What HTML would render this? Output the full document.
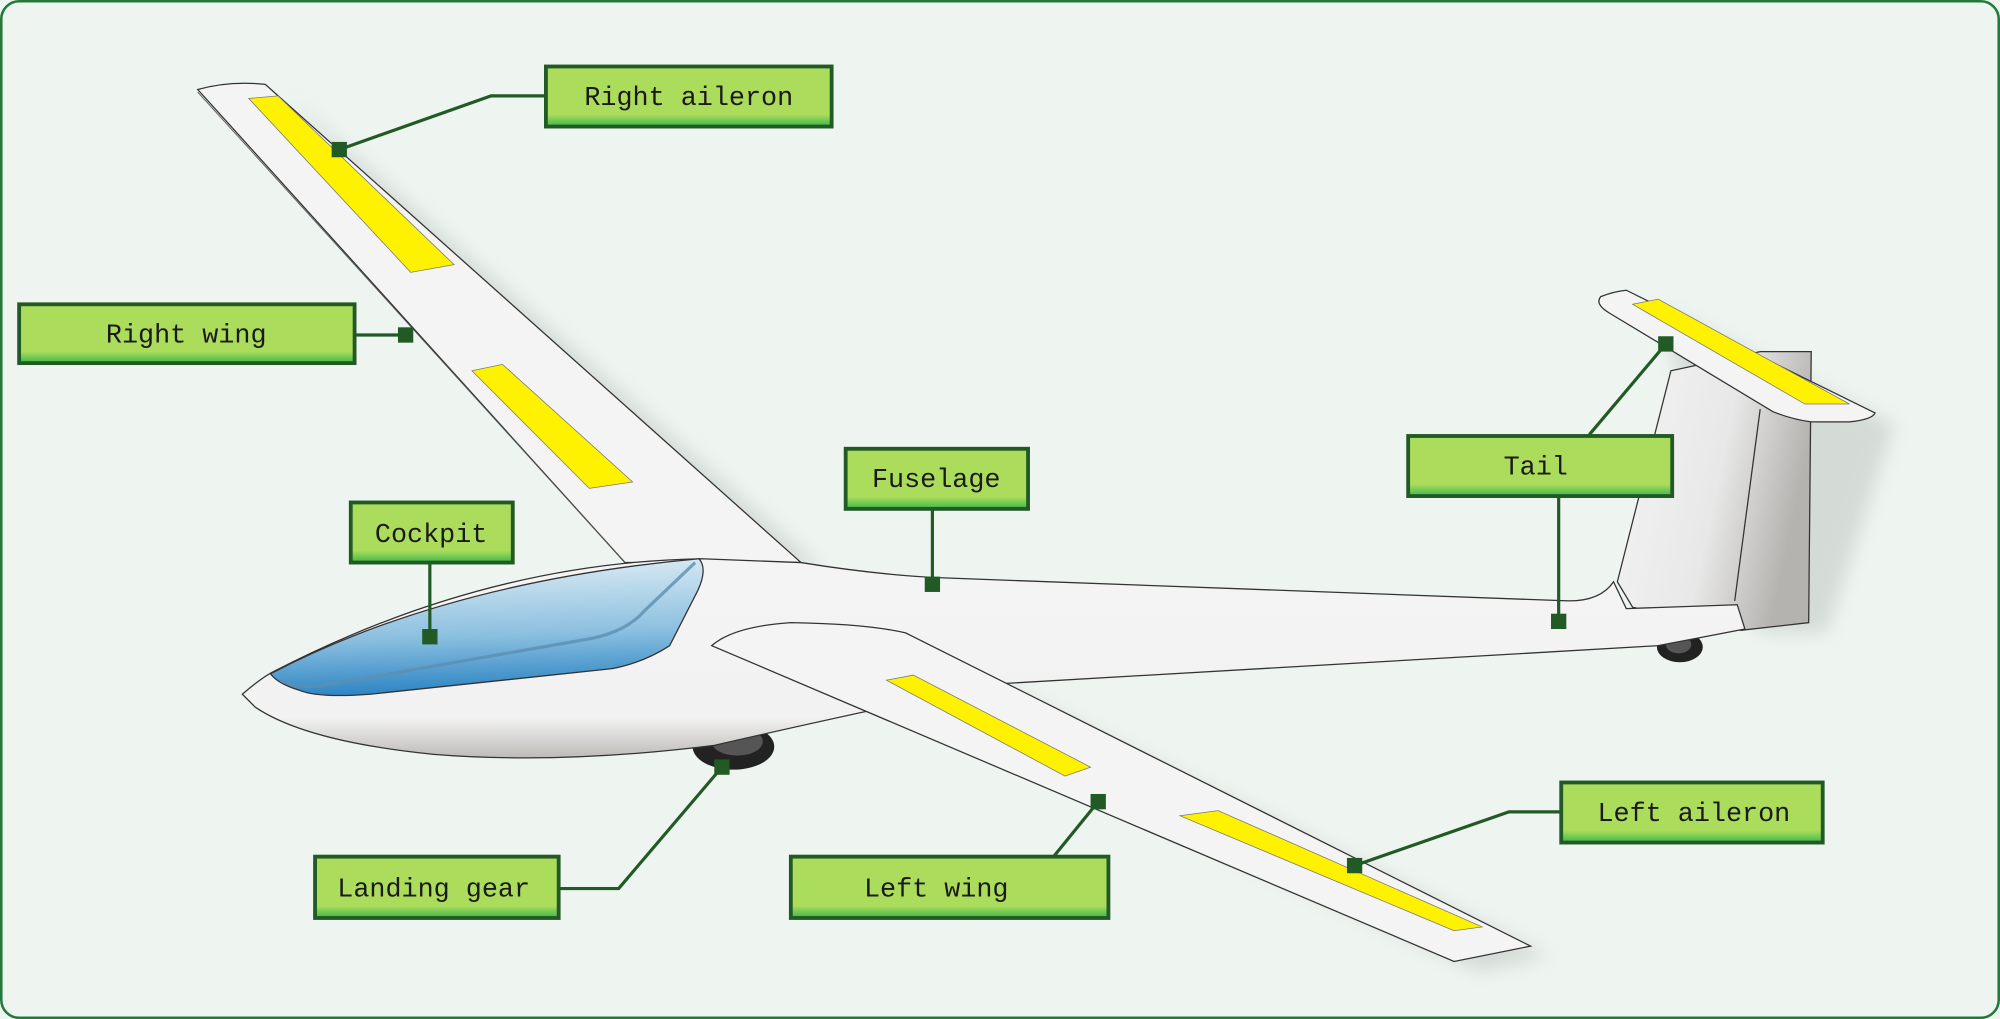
<!DOCTYPE html>
<html><head><meta charset="utf-8"><style>
html,body{margin:0;padding:0;width:2000px;height:1019px;overflow:hidden;background:#eef5f0}
svg{display:block}
text{font-family:"Liberation Mono","DejaVu Sans Mono",monospace;font-size:21px;fill:#1a1a1a}
</style></head><body>
<svg width="2000" height="1019" viewBox="0 0 1568 797" preserveAspectRatio="none">
<defs>
<linearGradient id="can" x1="0" y1="0" x2="0.1" y2="1">
<stop offset="0" stop-color="#e3eff6"/><stop offset="0.6" stop-color="#8cc0e0"/><stop offset="1" stop-color="#2f86c4"/></linearGradient>
<linearGradient id="fin" x1="0" y1="0" x2="1" y2="0.3">
<stop offset="0" stop-color="#f4f4f4"/><stop offset="0.6" stop-color="#e8e8e8"/><stop offset="1" stop-color="#b5b3af"/></linearGradient>
<linearGradient id="fus" x1="0" y1="0" x2="0" y2="1">
<stop offset="0" stop-color="#f4f4f4"/><stop offset="0.8" stop-color="#f2f2f2"/><stop offset="1" stop-color="#bdbbb7"/></linearGradient>
<linearGradient id="box" x1="0" y1="0" x2="0" y2="1">
<stop offset="0" stop-color="#acdc5c"/><stop offset="0.8" stop-color="#acdc5c"/><stop offset="1" stop-color="#3cb84a"/></linearGradient>
<filter id="sh" x="-10%" y="-10%" width="130%" height="130%"><feGaussianBlur stdDeviation="7"/></filter>
</defs>
<rect x="1" y="1" width="1566" height="795" rx="14" fill="#eef5f0" stroke="#217a3a" stroke-width="2"/>
<!-- shadows -->
<g fill="#9a9f9b" opacity="0.3" filter="url(#sh)">
<polygon points="225,75 645,445 520,445"/>
<polygon points="1300,240 1485,332 1432,495 1380,495"/>
<polygon points="720,505 1215,748 1160,760 660,525"/>
</g>
<!-- right wing -->
<path d="M155,70 Q180,63 208,66 L628,440 L490,440 Z" fill="#f4f4f4" stroke="#333" stroke-width="1"/>
<line x1="490" y1="440" x2="155" y2="72" stroke="#555" stroke-width="0.7"/>
<polygon points="195,77 218,75 356,207 322,213" fill="#fff200" stroke="#777" stroke-width="0.6"/>
<polygon points="370,290 394,285 496,377 462,382" fill="#fff200" stroke="#777" stroke-width="0.6"/>
<!-- fin -->
<path d="M1268,455 L1310,290 L1380,275 L1420,275 L1418,487 L1365,493 L1280,475 Z" fill="url(#fin)" stroke="#333" stroke-width="1"/>
<line x1="1380" y1="320" x2="1360" y2="470" stroke="#333" stroke-width="1"/>
<!-- tail wheel -->
<ellipse cx="1317" cy="506" rx="18" ry="12" fill="#222"/>
<ellipse cx="1316" cy="504" rx="10" ry="7" fill="#555"/>
<!-- main wheel -->
<ellipse cx="575" cy="584" rx="32" ry="18" fill="#222"/>
<ellipse cx="578" cy="580" rx="20" ry="11" fill="#555"/>
<!-- fuselage -->
<path d="M190,543 Q205,530 215,525 Q380,440 550,437 L628,440 Q690,450 740,452 L1230,470 Q1255,470 1265,455 L1275,476 L1362,473 L1368,492 L1300,505 L780,535 Q660,560 560,583 Q440,598 340,590 Q240,580 200,553 Z" fill="url(#fus)" stroke="#333" stroke-width="1"/>
<!-- canopy -->
<path d="M212,527 Q350,455 548,437 Q555,445 547,462 L525,505 Q505,518 480,523 L290,543 Q250,546 235,540 Q218,535 212,527 Z" fill="url(#can)" stroke="#333" stroke-width="1"/>
<path d="M220,532 Q235,540 260,535 L460,500 Q490,495 505,478 L545,440" fill="none" stroke="#5c8fb0" stroke-width="2.5" opacity="0.8"/>
<!-- left wing -->
<path d="M558,505 Q575,490 620,487 Q680,488 710,495 L1200,740 L1140,752 Z" fill="#f4f4f4" stroke="#333" stroke-width="1"/>
<polygon points="695,532 716,528 855,600 835,607" fill="#fff200" stroke="#777" stroke-width="0.6"/>
<polygon points="925,638 955,634 1162,725 1140,728" fill="#fff200" stroke="#777" stroke-width="0.6"/>
<!-- stabilizer -->
<path d="M1255,232 Q1265,228 1275,227 L1470,323 Q1468,328 1450,330 L1420,330 Q1405,328 1390,322 L1262,245 Q1250,238 1255,232 Z" fill="#f4f4f4" stroke="#333" stroke-width="1"/>
<polygon points="1280,238 1300,234 1450,316 1415,316" fill="#fff200" stroke="#777" stroke-width="0.6"/>
<!-- connectors -->
<g stroke="#225a26" stroke-width="2.5" fill="none">
<polyline points="266,117 385,75 428,75"/>
<polyline points="278,262 318,262"/>
<polyline points="337,440 337,498"/>
<polyline points="731,398 731,457"/>
<polyline points="1246,340 1306,269"/>
<polyline points="1222,388 1222,486"/>
<polyline points="438,695 485,695 566,600"/>
<polyline points="826,670 861,627"/>
<polyline points="1224,635 1183,635 1062,677"/>
</g>
<g fill="#225a26">
<rect x="260" y="111" width="12" height="12"/>
<rect x="312" y="256" width="12" height="12"/>
<rect x="331" y="492" width="12" height="12"/>
<rect x="725" y="451" width="12" height="12"/>
<rect x="1300" y="263" width="12" height="12"/>
<rect x="1216" y="480" width="12" height="12"/>
<rect x="560" y="594" width="12" height="12"/>
<rect x="855" y="621" width="12" height="12"/>
<rect x="1056" y="671" width="12" height="12"/>
</g>
<!-- labels -->
<g stroke="#225a26" stroke-width="3" fill="url(#box)">
<rect x="428" y="52" width="224" height="47"/>
<rect x="15" y="238" width="263" height="46"/>
<rect x="275" y="393" width="127" height="47"/>
<rect x="663" y="351" width="143" height="47"/>
<rect x="1104" y="341" width="207" height="47"/>
<rect x="247" y="670" width="191" height="48"/>
<rect x="620" y="670" width="249" height="48"/>
<rect x="1224" y="612" width="205" height="47"/>
</g>
<g text-anchor="middle">
<text x="540" y="82">Right aileron</text>
<text x="146" y="268">Right wing</text>
<text x="338" y="424">Cockpit</text>
<text x="734" y="381">Fuselage</text>
<text x="1204" y="371">Tail</text>
<text x="340" y="701">Landing gear</text>
<text x="734" y="701">Left wing</text>
<text x="1328" y="642">Left aileron</text>
</g>
</svg>
</body></html>
